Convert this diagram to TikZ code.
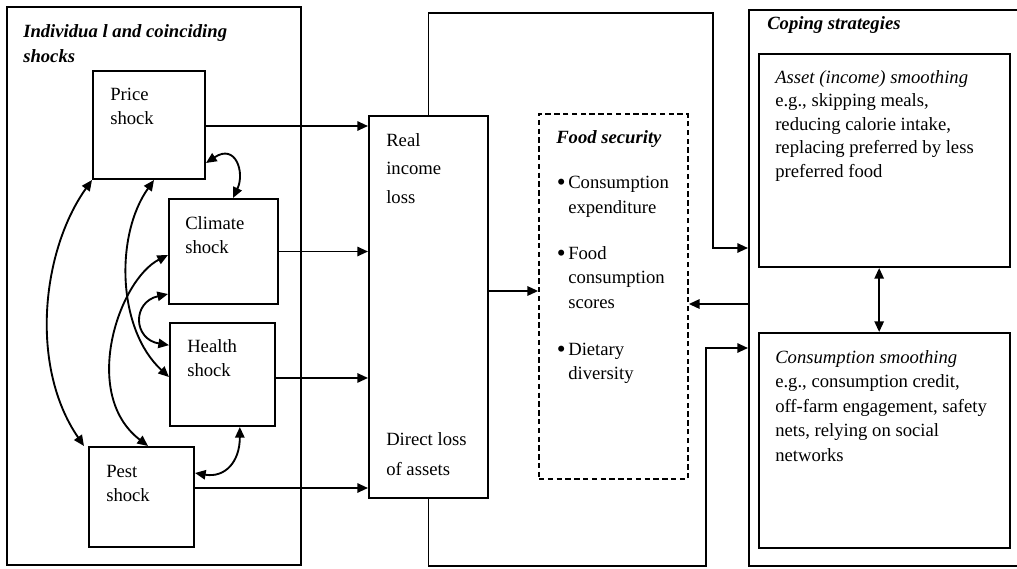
\documentclass[tikz,border=0pt]{standalone}
\usepackage{fontspec}
\setmainfont{Liberation Serif}
\usetikzlibrary{arrows.meta,fit,calc}
\newcommand\mytop{\rule{0pt}{10pt}}
\newcommand\mybul{\llap{\raisebox{-1.4pt}{\scalebox{1.35}{\textbullet}}\hspace{2pt}}}
\begin{document}
\begin{tikzpicture}[x=0.75pt,y=-0.75pt,
  box/.style={draw,line width=1.5pt,inner sep=0pt},
  dbox/.style={draw,line width=1.3pt,inner sep=0pt,dash pattern=on 4pt off 2.6pt},
  txt/.style={anchor=north west,inner sep=0pt,align=left,font=\fontsize{14}{18}\selectfont},
  bitxt/.style={txt,font=\fontsize{14}{18.75}\selectfont\bfseries\itshape},
  arr/.style={line width=1.4pt,-{Triangle[length=8pt,width=7pt]}},
  dbl/.style={line width=1.4pt,{Triangle[length=8pt,width=7pt]}-{Triangle[length=8pt,width=7pt]}}]
\clip (0,0) rectangle (1017,568);
\fill[white] (0,0) rectangle (1017,568);
% boxes
\node[box,fit={(7,7)(301,565)}] (shocks) {};
\node[box,fit={(93,71)(205,179)}] (price) {};
\node[box,fit={(169,199)(278,304)}] (climate) {};
\node[box,fit={(170,323)(275,426)}] (health) {};
\node[box,fit={(89,447)(194,547)}] (pest) {};
\node[box,fit={(369,116)(488,498)}] (mid) {};
\node[dbox,fit={(539,114)(688,479)}] (food) {};
\node[box,fit={(749,10)(1030,566)}] (coping) {};
\node[box,fit={(759,54)(1010,267)}] (asset) {};
\node[box,fit={(759,333)(1010,548)}] (cons) {};
% texts
\node[bitxt] (tshocks) at (23,23.7) {\mytop Individua l and coinciding\\shocks};
\node[txt] (tprice) at (110,86.7) {\mytop Price\\shock};
\node[txt] (tclimate) at (185,215.7) {\mytop Climate\\shock};
\node[txt] (thealth) at (187,338.7) {\mytop Health\\shock};
\node[txt] (tpest) at (106,463.7) {\mytop Pest\\shock};
\node[txt,font=\fontsize{14}{21.4}\selectfont] (treal) at (386,132.7) {\mytop Real\\income\\loss};
\node[txt,font=\fontsize{14}{22.5}\selectfont] (tdirect) at (386,431.7) {\mytop Direct loss\\of assets};
\node[bitxt] (tfood) at (556,129.7) {\mytop Food security};
\node[txt,font=\fontsize{14}{18.75}\selectfont] (tb1) at (568,174.7) {\mytop\mybul Consumption\\expenditure};
\node[txt,font=\fontsize{14}{18.4}\selectfont] (tb2) at (568,245.7) {\mytop\mybul Food\\consumption\\scores};
\node[txt,font=\fontsize{14}{18}\selectfont] (tb3) at (568,341.7) {\mytop\mybul Dietary\\diversity};
\node[bitxt] (tcoping) at (767,16) {\mytop Coping strategies};
\node[txt,font=\fontsize{14}{17.6}\selectfont] (tasset) at (775,69.7) {\mytop\textit{Asset (income) smoothing}\\e.g., skipping meals,\\reducing calorie intake,\\replacing preferred by less\\preferred food};
\node[txt,font=\fontsize{14}{18.4}\selectfont] (tcons) at (775,349.7) {\mytop\textit{Consumption smoothing}\\e.g., consumption credit,\\off-farm engagement, safety\\nets, relying on social\\networks};
% straight connectors
\coordinate (a1) at ([yshift=-0.75pt]price.east);
\coordinate (a2) at (climate.east);
\coordinate (a3) at ([yshift=-2.6pt]health.east);
\coordinate (a4) at ([yshift=6.75pt]pest.east);
\draw[arr] (a1) -- (a1 -| mid.west);
\draw[arr] (a2) -- (a2 -| mid.west);
\draw[arr] (a3) -- (a3 -| mid.west);
\draw[arr] (a4) -- (a4 -| mid.west);
\coordinate (mf) at ([yshift=12pt]mid.east);
\draw[arr] (mf) -- (mf -| food.west);
\coordinate (tl) at (713,13);
\coordinate (bl) at (706,566);
\coordinate (cin1) at ([yshift=30pt]coping.west);
\coordinate (cin2) at ([yshift=-45pt]coping.west);
\coordinate (cout) at ([yshift=-12pt]coping.west);
\draw[arr] (mid.north) |- (tl) |- (cin1);
\draw[arr] (mid.south) |- (bl) |- (cin2);
\draw[arr] (cout) -- (cout -| food.east);
\draw[dbl] ([xshift=-4pt]asset.south) -- ([xshift=-4pt]cons.north);
% curved double arrows
\draw[dbl] ([yshift=12.75pt]price.south east) .. controls +(30,-20) and +(12,-25) .. ([xshift=7.1pt]climate.north);
\draw[dbl] (price.south west) .. controls +(-50,70) and +(-55,-80) .. ([xshift=-3pt]pest.north west);
\draw[dbl] ([xshift=3.75pt]price.south) .. controls +(-39,55) and +(-52,-48) .. ([yshift=-1.9pt]health.west);
\draw[dbl] ([yshift=-2.6pt]climate.west) .. controls +(-49,25) and +(-68,-52) .. ([xshift=4.9pt]pest.north);
\draw[dbl] ([yshift=8.25pt]climate.south west) .. controls +(-36,8) and +(-36,-6) .. ([yshift=22pt]health.west);
\draw[dbl] ([xshift=13pt]health.south) .. controls +(0,35) and +(30,5) .. ([yshift=18pt]pest.east);
\end{tikzpicture}
\end{document}
